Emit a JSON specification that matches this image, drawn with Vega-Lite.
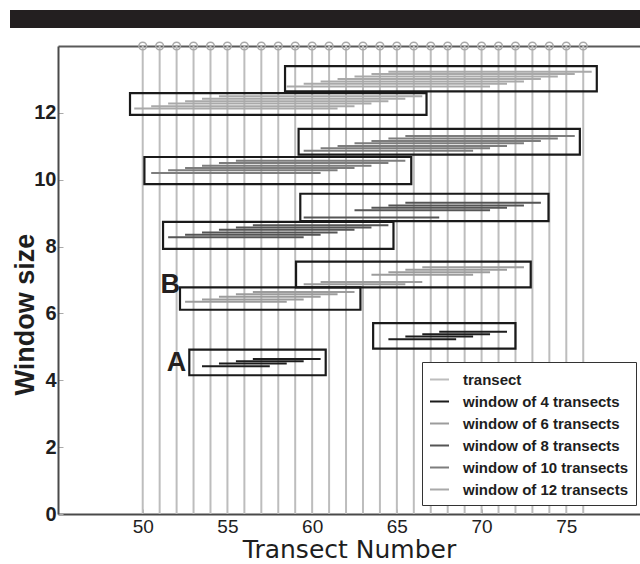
{
  "$schema": "https://vega.github.io/schema/vega-lite/v6.json",
  "padding": {"left": 10, "top": 10, "right": 0, "bottom": 0},
  "background": "white",
  "width": 582,
  "height": 468,
  "view": {"stroke": null},
  "resolve": {"axis": {"x": "independent", "y": "independent"}},
  "config": {
    "font": "Liberation Sans",
    "axis": {"grid": false, "domainColor": "#4a4a4a", "domainWidth": 2, "tickColor": "#aaaaaa", "labelColor": "#1e1e1e", "titleColor": "#1e1e1e"},
    "legend": {"gradientHorizontalMaxLength": 800, "gradientHorizontalMinLength": 10}
  },
  "datasets": {
    "transects": [
      {"t": 50, "top": 14}, {"t": 51, "top": 14}, {"t": 52, "top": 14}, {"t": 53, "top": 14}, {"t": 54, "top": 14},
      {"t": 55, "top": 14}, {"t": 56, "top": 14}, {"t": 57, "top": 14}, {"t": 58, "top": 14}, {"t": 59, "top": 14},
      {"t": 60, "top": 14}, {"t": 61, "top": 14}, {"t": 62, "top": 14}, {"t": 63, "top": 14}, {"t": 64, "top": 14},
      {"t": 65, "top": 14}, {"t": 66, "top": 14}, {"t": 67, "top": 14}, {"t": 68, "top": 14}, {"t": 69, "top": 14},
      {"t": 70, "top": 14}, {"t": 71, "top": 14}, {"t": 72, "top": 14}, {"t": 73, "top": 14}, {"t": 74, "top": 14},
      {"t": 75, "top": 14}, {"t": 76, "top": 14}
    ],
    "windows": [
      {"series": "window of 4 transects", "t": 54, "start": 53.5, "end": 57.5, "y": 4.42},
      {"series": "window of 4 transects", "t": 55, "start": 54.5, "end": 58.5, "y": 4.50},
      {"series": "window of 4 transects", "t": 56, "start": 55.5, "end": 59.5, "y": 4.57},
      {"series": "window of 4 transects", "t": 57, "start": 56.5, "end": 60.5, "y": 4.64},
      {"series": "window of 4 transects", "t": 65, "start": 64.5, "end": 68.5, "y": 5.23},
      {"series": "window of 4 transects", "t": 66, "start": 65.5, "end": 69.5, "y": 5.31},
      {"series": "window of 4 transects", "t": 67, "start": 66.5, "end": 70.5, "y": 5.38},
      {"series": "window of 4 transects", "t": 68, "start": 67.5, "end": 71.5, "y": 5.45},
      {"series": "window of 6 transects", "t": 53, "start": 52.5, "end": 58.5, "y": 6.35},
      {"series": "window of 6 transects", "t": 54, "start": 53.5, "end": 59.5, "y": 6.42},
      {"series": "window of 6 transects", "t": 55, "start": 54.5, "end": 60.5, "y": 6.50},
      {"series": "window of 6 transects", "t": 56, "start": 55.5, "end": 61.5, "y": 6.57},
      {"series": "window of 6 transects", "t": 57, "start": 56.5, "end": 62.5, "y": 6.64},
      {"series": "window of 6 transects", "t": 60, "start": 59.5, "end": 65.5, "y": 6.87},
      {"series": "window of 6 transects", "t": 61, "start": 60.5, "end": 66.5, "y": 6.94},
      {"series": "window of 6 transects", "t": 64, "start": 63.5, "end": 69.5, "y": 7.16},
      {"series": "window of 6 transects", "t": 65, "start": 64.5, "end": 70.5, "y": 7.23},
      {"series": "window of 6 transects", "t": 66, "start": 65.5, "end": 71.5, "y": 7.31},
      {"series": "window of 6 transects", "t": 67, "start": 66.5, "end": 72.5, "y": 7.38},
      {"series": "window of 8 transects", "t": 52, "start": 51.5, "end": 59.5, "y": 8.28},
      {"series": "window of 8 transects", "t": 53, "start": 52.5, "end": 60.5, "y": 8.35},
      {"series": "window of 8 transects", "t": 54, "start": 53.5, "end": 61.5, "y": 8.42},
      {"series": "window of 8 transects", "t": 55, "start": 54.5, "end": 62.5, "y": 8.50},
      {"series": "window of 8 transects", "t": 56, "start": 55.5, "end": 63.5, "y": 8.57},
      {"series": "window of 8 transects", "t": 57, "start": 56.5, "end": 64.5, "y": 8.64},
      {"series": "window of 8 transects", "t": 60, "start": 59.5, "end": 67.5, "y": 8.87},
      {"series": "window of 8 transects", "t": 63, "start": 62.5, "end": 70.5, "y": 9.09},
      {"series": "window of 8 transects", "t": 64, "start": 63.5, "end": 71.5, "y": 9.16},
      {"series": "window of 8 transects", "t": 65, "start": 64.5, "end": 72.5, "y": 9.23},
      {"series": "window of 8 transects", "t": 66, "start": 65.5, "end": 73.5, "y": 9.31},
      {"series": "window of 10 transects", "t": 51, "start": 50.5, "end": 60.5, "y": 10.20},
      {"series": "window of 10 transects", "t": 52, "start": 51.5, "end": 61.5, "y": 10.28},
      {"series": "window of 10 transects", "t": 53, "start": 52.5, "end": 62.5, "y": 10.35},
      {"series": "window of 10 transects", "t": 54, "start": 53.5, "end": 63.5, "y": 10.42},
      {"series": "window of 10 transects", "t": 55, "start": 54.5, "end": 64.5, "y": 10.50},
      {"series": "window of 10 transects", "t": 56, "start": 55.5, "end": 65.5, "y": 10.57},
      {"series": "window of 10 transects", "t": 60, "start": 59.5, "end": 69.5, "y": 10.87},
      {"series": "window of 10 transects", "t": 61, "start": 60.5, "end": 70.5, "y": 10.94},
      {"series": "window of 10 transects", "t": 62, "start": 61.5, "end": 71.5, "y": 11.01},
      {"series": "window of 10 transects", "t": 63, "start": 62.5, "end": 72.5, "y": 11.09},
      {"series": "window of 10 transects", "t": 64, "start": 63.5, "end": 73.5, "y": 11.16},
      {"series": "window of 10 transects", "t": 65, "start": 64.5, "end": 74.5, "y": 11.23},
      {"series": "window of 10 transects", "t": 66, "start": 65.5, "end": 75.5, "y": 11.31},
      {"series": "window of 12 transects", "t": 50, "start": 49.5, "end": 61.5, "y": 12.13},
      {"series": "window of 12 transects", "t": 51, "start": 50.5, "end": 62.5, "y": 12.20},
      {"series": "window of 12 transects", "t": 52, "start": 51.5, "end": 63.5, "y": 12.28},
      {"series": "window of 12 transects", "t": 53, "start": 52.5, "end": 64.5, "y": 12.35},
      {"series": "window of 12 transects", "t": 54, "start": 53.5, "end": 65.5, "y": 12.42},
      {"series": "window of 12 transects", "t": 55, "start": 54.5, "end": 66.5, "y": 12.50},
      {"series": "window of 12 transects", "t": 59, "start": 58.5, "end": 70.5, "y": 12.79},
      {"series": "window of 12 transects", "t": 60, "start": 59.5, "end": 71.5, "y": 12.87},
      {"series": "window of 12 transects", "t": 61, "start": 60.5, "end": 72.5, "y": 12.94},
      {"series": "window of 12 transects", "t": 62, "start": 61.5, "end": 73.5, "y": 13.01},
      {"series": "window of 12 transects", "t": 63, "start": 62.5, "end": 74.5, "y": 13.09},
      {"series": "window of 12 transects", "t": 64, "start": 63.5, "end": 75.5, "y": 13.16},
      {"series": "window of 12 transects", "t": 65, "start": 64.5, "end": 76.5, "y": 13.23}
    ],
    "boxes": [
      {"x1": 52.75, "x2": 60.8, "y1": 4.15, "y2": 4.92},
      {"x1": 63.6, "x2": 72.0, "y1": 4.95, "y2": 5.71},
      {"x1": 52.2, "x2": 62.85, "y1": 6.11, "y2": 6.78},
      {"x1": 59.05, "x2": 72.9, "y1": 6.78, "y2": 7.55},
      {"x1": 51.2, "x2": 64.8, "y1": 7.93, "y2": 8.74},
      {"x1": 59.3, "x2": 73.95, "y1": 8.76, "y2": 9.58},
      {"x1": 50.1, "x2": 65.85, "y1": 9.87, "y2": 10.68},
      {"x1": 59.2, "x2": 75.8, "y1": 10.75, "y2": 11.52},
      {"x1": 49.25, "x2": 66.75, "y1": 11.94, "y2": 12.59},
      {"x1": 58.4, "x2": 76.8, "y1": 12.64, "y2": 13.4}
    ],
    "letters": [
      {"label": "A", "x": 52.0, "y": 4.52},
      {"label": "B", "x": 51.63, "y": 6.84}
    ]
  },
  "layer": [
    {
      "data": {"name": "transects"},
      "mark": {"type": "rule", "strokeWidth": 2},
      "encoding": {
        "x": {"field": "t", "type": "quantitative", "axis": null},
        "color": {
          "datum": "transect",
          "scale": {
            "domain": ["transect", "window of 4 transects", "window of 6 transects", "window of 8 transects", "window of 10 transects", "window of 12 transects"],
            "range": ["#bdbdbd", "#1c1c1c", "#9c9c9c", "#555555", "#7d7d7d", "#a9a9a9"]
          },
          "legend": {
            "title": null, "orient": "none", "legendX": 364, "legendY": 316,
            "symbolType": "stroke", "symbolSize": 361, "symbolStrokeWidth": 2,
            "labelFont": "Liberation Sans", "labelFontWeight": "bold", "labelFontSize": 15, "labelColor": "#1e1e1e",
            "labelLimit": 300, "labelOffset": 13, "rowPadding": 3, "padding": 7,
            "fillColor": "white", "strokeColor": "#333333"
          }
        }
      }
    },
    {
      "data": {"name": "windows"},
      "mark": {"type": "rule", "strokeWidth": 2},
      "encoding": {
        "x": {
          "field": "start", "type": "quantitative",
          "scale": {"domain": [45, 79.35], "nice": false, "zero": false},
          "axis": {
            "orient": "bottom",
            "values": [50, 55, 60, 65, 70, 75],
            "title": "Transect Number",
            "titleFont": "DejaVu Sans", "titleFontSize": 25, "titleFontWeight": "normal", "titlePadding": 1,
            "labelFont": "Liberation Sans", "labelFontSize": 19, "labelFontWeight": "normal",
            "tickSize": -5, "labelPadding": 8
          }
        },
        "x2": {"field": "end"},
        "y": {
          "field": "y", "type": "quantitative",
          "scale": {"domain": [0, 14], "nice": false, "zero": false},
          "axis": {
            "orient": "left",
            "values": [0, 2, 4, 6, 8, 10, 12],
            "title": "Window size",
            "titleFont": "Liberation Sans", "titleFontSize": 27, "titleFontWeight": "bold",
            "titleAngle": 270, "titleBaseline": "middle", "titleAlign": "center",
            "titleX": -33, "titleY": 268,
            "labelFont": "Liberation Sans", "labelFontSize": 20, "labelFontWeight": "bold",
            "tickSize": -5, "labelPadding": 7
          }
        },
        "color": {"field": "series", "type": "nominal", "legend": null}
      }
    },
    {
      "data": {"name": "boxes"},
      "mark": {"type": "rect", "filled": false, "stroke": "#1a1a1a", "strokeWidth": 2.2},
      "encoding": {
        "x": {"field": "x1", "type": "quantitative", "axis": null},
        "x2": {"field": "x2"},
        "y": {"field": "y1", "type": "quantitative", "axis": null},
        "y2": {"field": "y2"}
      }
    },
    {
      "data": {"name": "transects"},
      "mark": {"type": "point", "shape": "circle", "size": 60, "filled": false, "stroke": "#aaaaaa", "strokeWidth": 1.5, "opacity": 1},
      "encoding": {
        "x": {
          "field": "t", "type": "quantitative",
          "axis": {"orient": "top", "labels": false, "ticks": false, "domain": true, "title": null, "domainColor": "#5a5a5a", "domainWidth": 2}
        },
        "y": {"field": "top", "type": "quantitative", "axis": null}
      }
    },
    {
      "data": {"name": "letters"},
      "mark": {"type": "text", "font": "Liberation Sans", "fontWeight": "bold", "fontSize": 27, "align": "center", "baseline": "middle"},
      "encoding": {
        "x": {"field": "x", "type": "quantitative", "axis": null},
        "y": {"field": "y", "type": "quantitative", "axis": null},
        "text": {"field": "label"},
        "fill": {
          "field": "y", "type": "quantitative",
          "scale": {"range": ["#231f20", "#231f20"]},
          "legend": {
            "title": null, "orient": "none", "legendX": -48, "legendY": -36,
            "direction": "horizontal", "gradientLength": 630, "gradientThickness": 18,
            "gradientStrokeWidth": 0, "padding": 0, "labelOpacity": 0, "labelFontSize": 1, "tickCount": 2
          }
        }
      }
    }
  ]
}
